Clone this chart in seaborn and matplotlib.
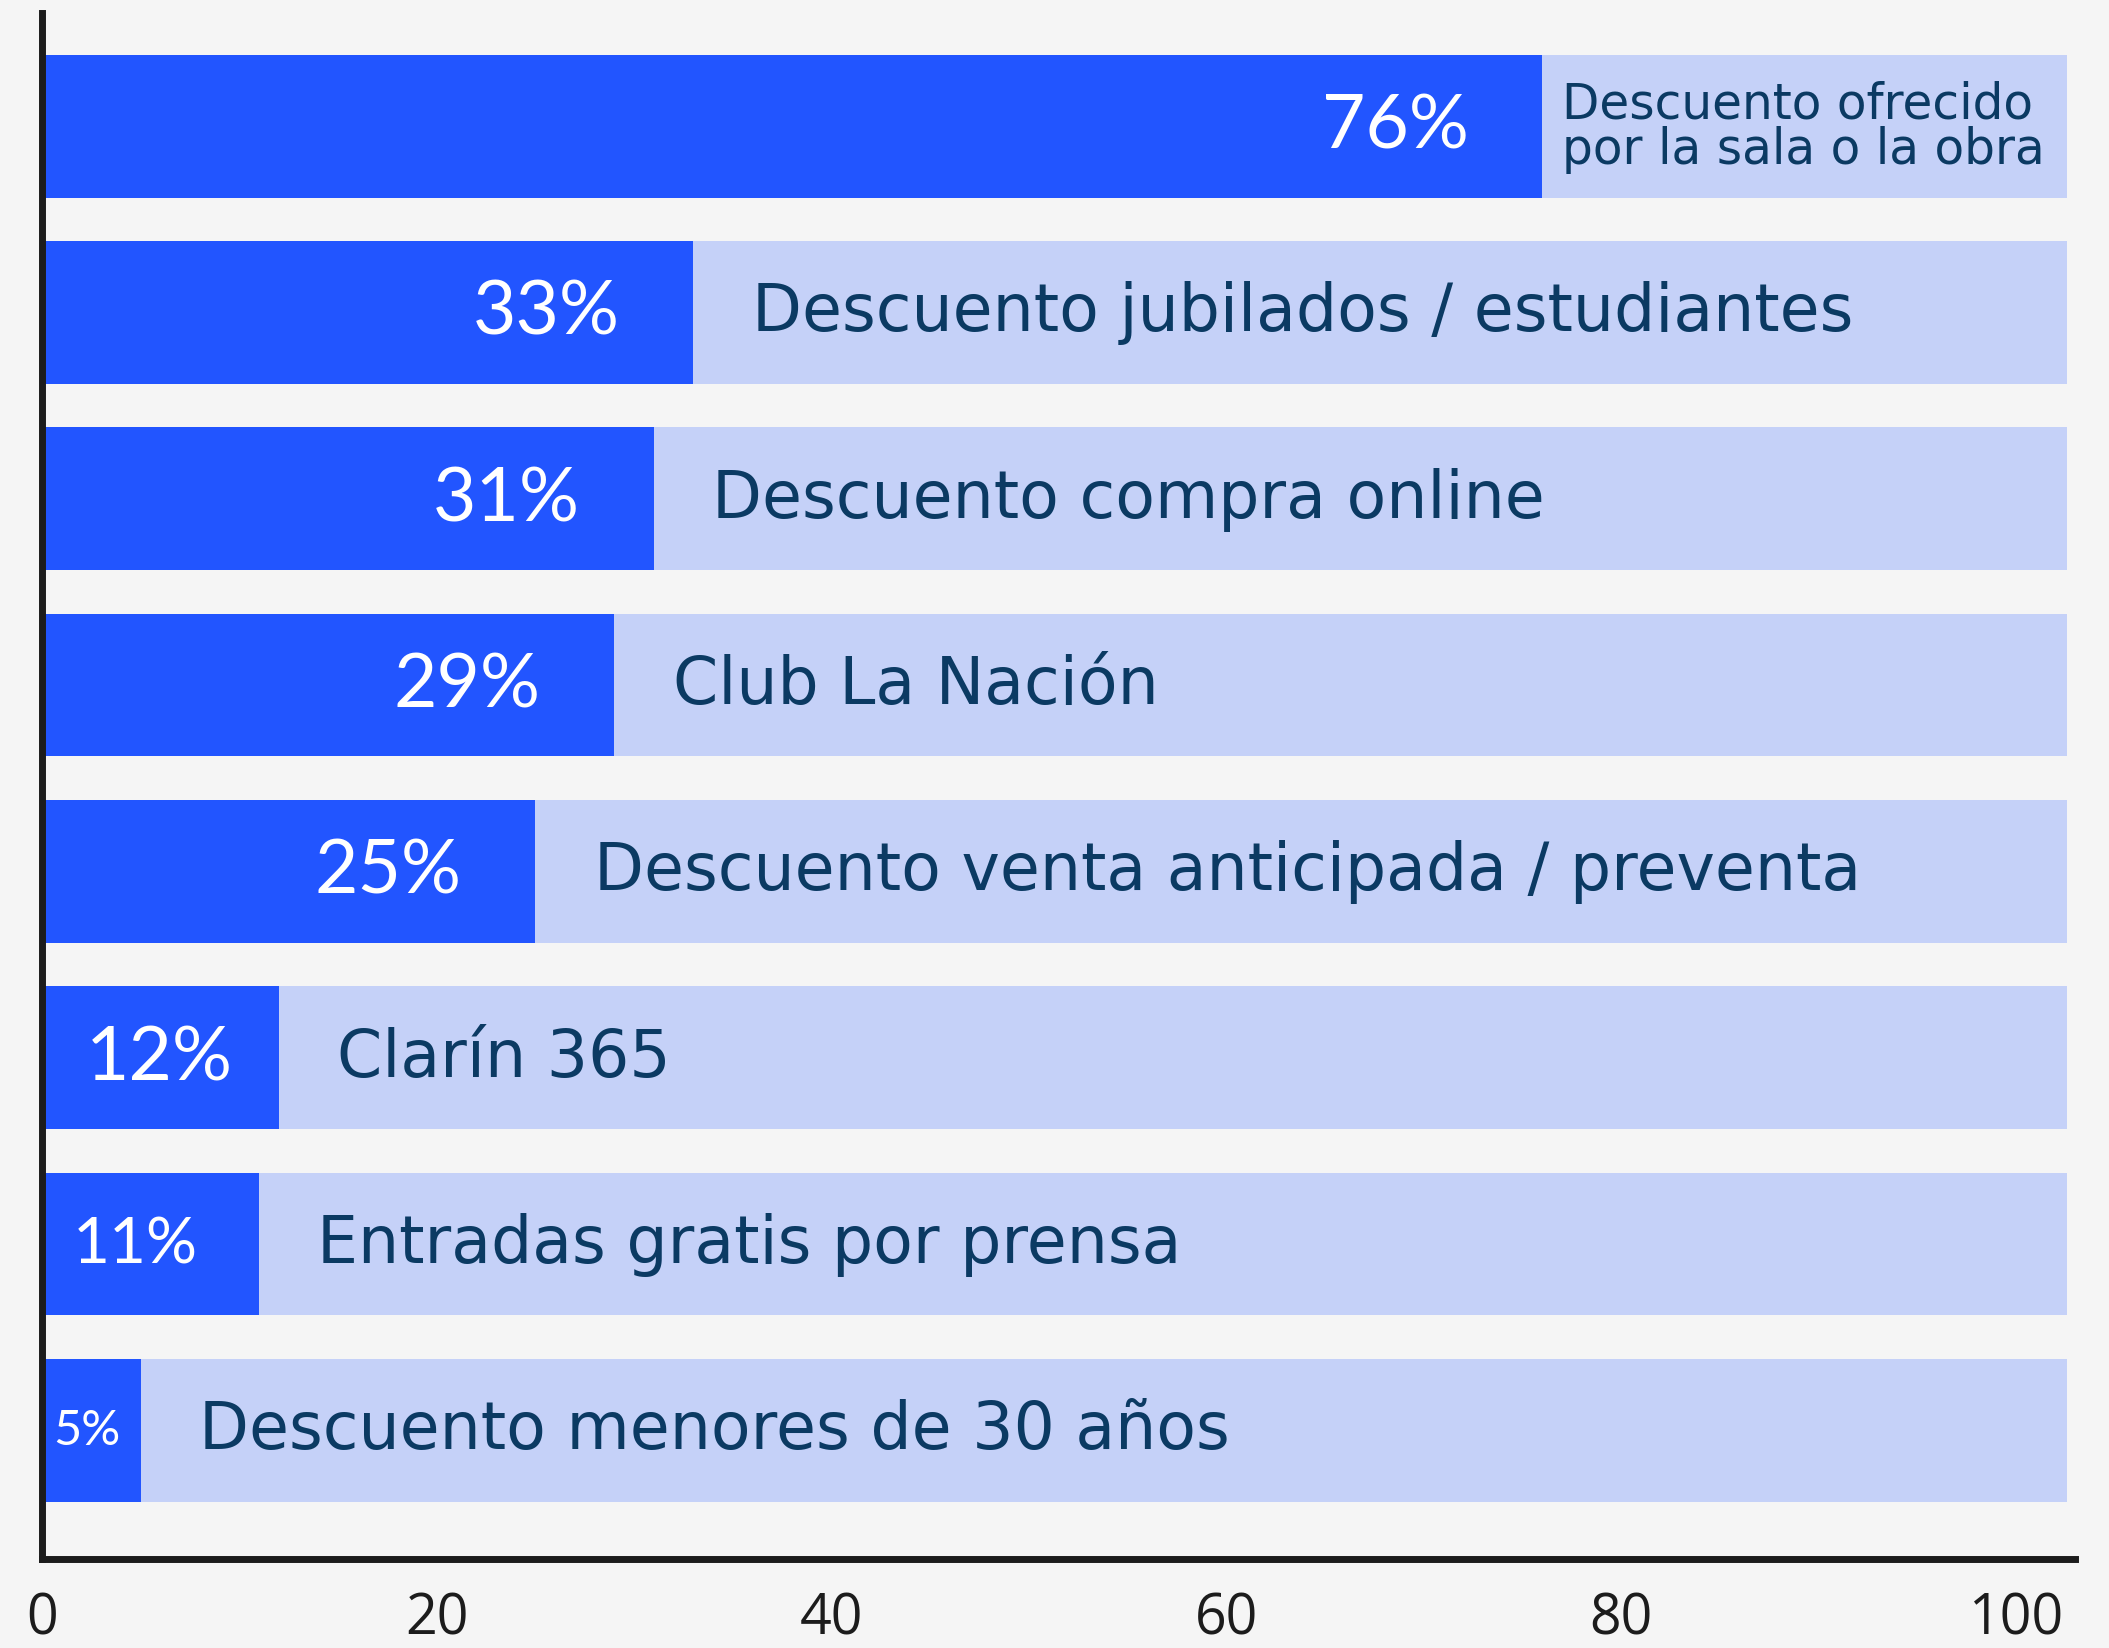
import matplotlib
matplotlib.use("Agg")
import matplotlib.pyplot as plt
import seaborn as sns
import pandas as pd

# Share of respondents using each kind of ticket discount (%)
categories = [
    "Descuento ofrecido\npor la sala o la obra",
    "Descuento jubilados / estudiantes",
    "Descuento compra online",
    "Club La Nación",
    "Descuento venta anticipada / preventa",
    "Clarín 365",
    "Entradas gratis por prensa",
    "Descuento menores de 30 años",
]
values = [76, 33, 31, 29, 25, 12, 11, 5]
value_labels = ["76%", "33%", "31%", "29%", "25%", "12%", "11%", "5%"]
x_ticks = [0, 20, 40, 60, 80, 100]

BG = "#f5f5f5"
BLUE = "#2255ff"
TRACK = "#c5d1f8"
TEXT_DARK = "#0b3a63"
AXIS = "#1c1c1c"
TRACK_END = 102.6
X_MAX = 103

sns.set_theme(style="white")
plt.rcParams["font.family"] = ["Lato", "DejaVu Sans"]
LABEL_FONT = ["DejaVu Sans"]

df = pd.DataFrame({"cat": categories, "val": values,
                   "track": [TRACK_END] * len(categories)})

fig = plt.figure(figsize=(21.09, 16.49), dpi=100, facecolor=BG)
ax = fig.add_axes([0.0199, 0.054, 0.9640, 0.9378])
ax.set_facecolor(BG)

sns.barplot(data=df, x="track", y="cat", color=TRACK, saturation=1,
            width=0.766, orient="h", ax=ax, edgecolor="none", linewidth=0)
sns.barplot(data=df, x="val", y="cat", color=BLUE, saturation=1,
            width=0.766, orient="h", ax=ax, edgecolor="none", linewidth=0)

n = len(categories)
ax.set_xlim(0, X_MAX)
ax.set_ylim(n - 1 + 0.69, -0.61)

# value labels inside the blue bars
for i, (v, lab) in enumerate(zip(values, value_labels)):
    if v >= 20:
        ax.annotate(lab, (v, i), xytext=(-53, 0), textcoords="offset points",
                    ha="right", va="center", color="white", fontsize=54)
    elif v >= 12:
        ax.annotate(lab, (v, i), xytext=(-33, 0), textcoords="offset points",
                    ha="right", va="center", color="white", fontsize=54)
    elif v >= 10:
        ax.annotate(lab, (v, i), xytext=(-44, 0), textcoords="offset points",
                    ha="right", va="center", color="white", fontsize=46)
    else:
        ax.annotate(lab, (v / 2, i), xytext=(-3, 0), textcoords="offset points",
                    ha="center", va="center", color="white", fontsize=35)

# category labels just past the bar ends
for i, (v, cat) in enumerate(zip(values, categories)):
    if "\n" in cat:
        ax.annotate(cat, (v, i), xytext=(14, 0), textcoords="offset points",
                    ha="left", va="center", color=TEXT_DARK, fontsize=35,
                    linespacing=0.92, family=LABEL_FONT)
    else:
        ax.annotate(cat, (v, i), xytext=(42, 0), textcoords="offset points",
                    ha="left", va="center", color=TEXT_DARK, fontsize=46.7,
                    family=LABEL_FONT)

ax.set_xticks(x_ticks)
ax.set_xticklabels([str(t) for t in x_ticks], fontsize=40, color=AXIS,
                   family=["Open Sans", "DejaVu Sans"])
ax.tick_params(axis="x", length=0, pad=23)
ax.set_yticks([])
ax.set_xlabel("")
ax.set_ylabel("")

for side in ("top", "right"):
    ax.spines[side].set_visible(False)
for side in ("left", "bottom"):
    ax.spines[side].set_visible(True)
    ax.spines[side].set_color(AXIS)
    ax.spines[side].set_linewidth(5)

fig.savefig("out.png", dpi=100, facecolor=BG)
